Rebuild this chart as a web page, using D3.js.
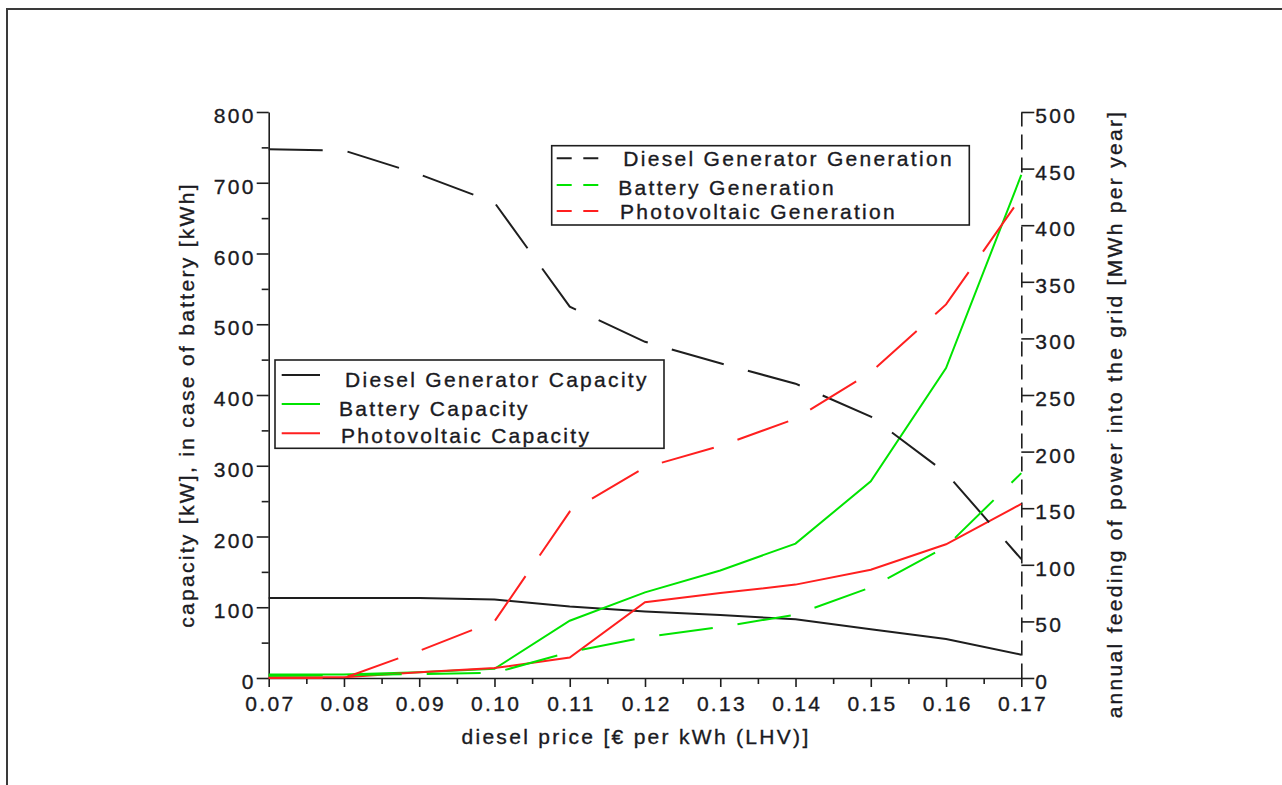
<!DOCTYPE html>
<html>
<head>
<meta charset="utf-8">
<script src="https://cdn.jsdelivr.net/npm/d3@7"></script>
<style>
  html, body { margin: 0; padding: 0; background: #fff; }
  svg { display: block; }
  text { font-family: "Liberation Sans", Arial, sans-serif; fill: #1a1a22; stroke: #1a1a22; stroke-width: 0.35px; }
</style>
</head>
<body>
<svg id="chart" width="1282" height="785"></svg>
<script>
// diesel price [€ per kWh (LHV)]
const price = [0.07, 0.08, 0.09, 0.10, 0.11, 0.12, 0.13, 0.14, 0.15, 0.16, 0.17];

// installed capacity, left axis [kW] / battery [kWh]
const dieselCapacity  = [113, 113, 113, 111, 101, 94, 89, 83, 69, 55, 33];
const batteryCapacity = [5, 5, 8, 13, 81, 121, 152, 190, 278, 438, 711];
const pvCapacity      = [1, 1, 8, 14, 29, 107, 120, 132, 153, 189, 246];

// annual feeding into the grid, right axis [MWh per year]
const dieselGeneration  = [467, 466, 445, 420, 328, 297, 278, 260, 231, 181, 105];
const batteryGeneration = [2, 2.5, 3.5, 4.5, 23, 36, 45, 56, 80, 116, 181];
const pvGeneration      = [0, 0, 24, 50, 147, 186, 205, 229, 270, 330, 425];

// axis ticks
const xTicks = [0.07, 0.08, 0.09, 0.10, 0.11, 0.12, 0.13, 0.14, 0.15, 0.16, 0.17];
const xMinorTicks = [0.075, 0.085, 0.095, 0.105, 0.115, 0.125, 0.135, 0.145, 0.155, 0.165];
const leftTicks = [0, 100, 200, 300, 400, 500, 600, 700, 800];
const leftMinorTicks = [50, 150, 250, 350, 450, 550, 650, 750];
const rightTicks = [0, 50, 100, 150, 200, 250, 300, 350, 400, 450, 500];

const capacityLegend = ["Diesel Generator Capacity", "Battery Capacity", "Photovoltaic Capacity"];
const generationLegend = ["Diesel Generator Generation", "Battery Generation", "Photovoltaic Generation"];

const BLACK = "#1e1e1e", GREEN = "#00e400", RED = "#ff1f1f";
const FS = 21, LS = 2.3;

const svg = d3.select("#chart");

// page frame
svg.append("rect").attr("x", 7).attr("y", 9).attr("width", 1400).attr("height", 900)
  .attr("fill", "none").attr("stroke", "#3a3a3a").attr("stroke-width", 2);

const plot = { left: 268.7, right: 1021.3, top: 112, bottom: 678 };

const x = d3.scaleLinear().domain([0.07, 0.17]).range([plot.left, plot.right]);
const yL = d3.scaleLinear().domain([0, 800]).range([plot.bottom, plot.top]);
const yR = d3.scaleLinear().domain([0, 500]).range([plot.bottom, plot.top]);

function styleAxis(g) {
  g.attr("font-family", null).attr("font-size", null);
  g.selectAll("line").attr("stroke", BLACK).attr("stroke-width", 1.6);
  g.selectAll("path.domain").attr("stroke", BLACK).attr("stroke-width", 1.6);
  g.selectAll("text").attr("fill", "#1a1a22").style("font-size", FS + "px")
    .style("letter-spacing", LS + "px");
}

// x axis
const gx = svg.append("g").attr("transform", `translate(0,${plot.bottom})`)
  .call(d3.axisBottom(x).tickValues(xTicks).tickSize(9).tickSizeOuter(0).tickPadding(9)
    .tickFormat(d3.format(".2f")));
styleAxis(gx);
gx.selectAll("text").attr("dx", LS / 2);
const gxm = svg.append("g").attr("transform", `translate(0,${plot.bottom})`)
  .call(d3.axisBottom(x).tickValues(xMinorTicks).tickSize(6).tickFormat(""));
styleAxis(gxm);
gxm.select("path.domain").remove();

// left axis
const gl = svg.append("g").attr("transform", `translate(${plot.left},0)`)
  .call(d3.axisLeft(yL).tickValues(leftTicks).tickSize(12).tickSizeOuter(0).tickPadding(1)
    .tickFormat(d3.format("d")));
styleAxis(gl);
gl.selectAll("text").attr("dy", "0.5em");
const glm = svg.append("g").attr("transform", `translate(${plot.left},0)`)
  .call(d3.axisLeft(yL).tickValues(leftMinorTicks).tickSize(7).tickFormat(""));
styleAxis(glm);
glm.select("path.domain").remove();

// right axis, drawn with a dashed spine
const gr = svg.append("g").attr("transform", `translate(${plot.right},0)`)
  .call(d3.axisRight(yR).tickValues(rightTicks).tickSize(13).tickSizeOuter(0).tickPadding(1)
    .tickFormat(d3.format("d")));
styleAxis(gr);
gr.selectAll("text").attr("dy", "0.5em");
gr.select("path.domain").attr("stroke-dasharray", "15,8");

// axis titles
svg.append("text").attr("x", 636).attr("y", 744).attr("text-anchor", "middle")
  .style("font-size", FS + "px").style("letter-spacing", LS + "px")
  .text("diesel price [€ per kWh (LHV)]");
svg.append("text").attr("transform", "translate(194,405) rotate(-90)")
  .attr("text-anchor", "middle")
  .style("font-size", FS + "px").style("letter-spacing", LS + "px")
  .text("capacity [kW], in case of battery [kWh]");
svg.append("text").attr("transform", "translate(1122,414) rotate(-90)")
  .attr("text-anchor", "middle")
  .style("font-size", FS + "px").style("letter-spacing", LS + "px")
  .text("annual feeding of power into the grid [MWh per year]");

// series
const lineL = d3.line().x((d, i) => x(price[i])).y(d => yL(d));
const lineR = d3.line().x((d, i) => x(price[i])).y(d => yR(d));

const series = [
  { values: dieselCapacity, line: lineL, color: BLACK, dash: null },
  { values: batteryCapacity, line: lineL, color: GREEN, dash: null },
  { values: pvCapacity, line: lineL, color: RED, dash: null },
  { values: dieselGeneration, line: lineR, color: BLACK, dash: "54,25" },
  { values: batteryGeneration, line: lineR, color: GREEN, dash: "54,25" },
  { values: pvGeneration, line: lineR, color: RED, dash: "54,25" }
];

svg.append("g").selectAll("path").data(series).join("path")
  .attr("d", s => s.line(s.values))
  .attr("fill", "none")
  .attr("stroke", s => s.color)
  .attr("stroke-width", 2)
  .attr("stroke-dasharray", s => s.dash);

// legend: generation (dashed)
const leg1 = svg.append("g");
leg1.append("rect").attr("x", 551.7).attr("y", 145.7).attr("width", 417.6).attr("height", 79.3)
  .attr("fill", "#fff").attr("stroke", BLACK).attr("stroke-width", 1.6);
const leg1Rows = [
  { y: 158.3, base: 165.7, tx: 623.3, color: BLACK },
  { y: 185, base: 195, tx: 618.3, color: GREEN },
  { y: 211, base: 219.3, tx: 620, color: RED }
];
leg1Rows.forEach((r, i) => {
  leg1.append("line").attr("x1", 556.7).attr("x2", 598.3).attr("y1", r.y).attr("y2", r.y)
    .attr("stroke", r.color).attr("stroke-width", 2).attr("stroke-dasharray", "15,11.6");
  leg1.append("text").attr("x", r.tx).attr("y", r.base)
    .style("font-size", FS + "px").style("letter-spacing", LS + "px")
    .text(generationLegend[i]);
});

// legend: capacity (solid)
const leg2 = svg.append("g");
leg2.append("rect").attr("x", 275).attr("y", 360).attr("width", 389).attr("height", 88.3)
  .attr("fill", "#fff").attr("stroke", BLACK).attr("stroke-width", 1.6);
const leg2Rows = [
  { y: 375, base: 386.7, tx: 345, color: BLACK },
  { y: 404, base: 415.7, tx: 339, color: GREEN },
  { y: 433.3, base: 443.3, tx: 341, color: RED }
];
leg2Rows.forEach((r, i) => {
  leg2.append("line").attr("x1", 281.7).attr("x2", 320).attr("y1", r.y).attr("y2", r.y)
    .attr("stroke", r.color).attr("stroke-width", 2);
  leg2.append("text").attr("x", r.tx).attr("y", r.base)
    .style("font-size", FS + "px").style("letter-spacing", LS + "px")
    .text(capacityLegend[i]);
});
</script>
</body>
</html>
